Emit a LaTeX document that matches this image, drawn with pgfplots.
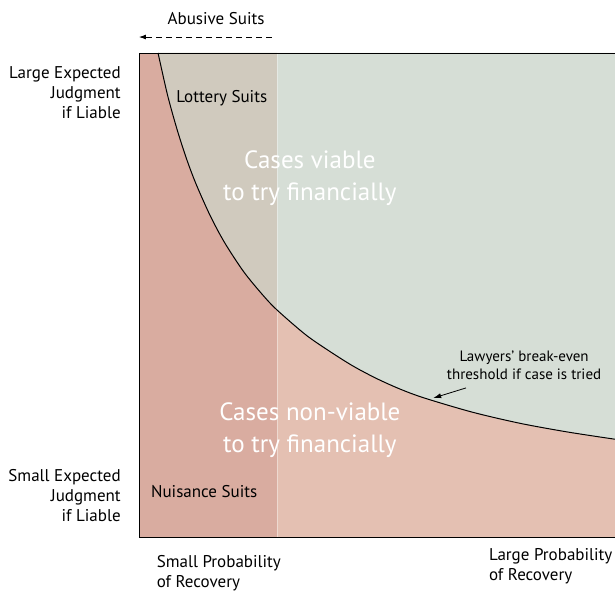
\documentclass[border=0pt]{standalone}
\usepackage{pgfplots}
\pgfplotsset{compat=1.18}
\usetikzlibrary{arrows.meta}
\usepackage{fontspec}
\setmainfont{PT Sans}
\definecolor{bgpink}{RGB}{228,192,178}
\definecolor{bggreen}{RGB}{214,222,214}
\definecolor{strippink}{RGB}{217,172,160}
\definecolor{stripgreen}{RGB}{208,202,190}
\begin{document}
\begin{tikzpicture}
\useasboundingbox (-139pt,-54pt) rectangle (476pt,537pt);
\begin{axis}[
  at={(0,0)}, anchor=south west,
  scale only axis, width=476pt, height=484pt,
  xmin=0, xmax=1, ymin=0, ymax=1,
  hide axis, clip=false,
]
% background (non-viable)
\addplot[fill=bgpink, draw=none] coordinates {(0,0) (1,0) (1,1) (0,1)} -- cycle;
% viable region above the break-even curve
\addplot[fill=bggreen, draw=none] coordinates {
(0.04,1.0) (0.06,0.913) (0.08,0.842) (0.10,0.781) (0.12,0.729) (0.15,0.663)
(0.18,0.608) (0.22,0.548) (0.26,0.500) (0.29,0.469) (0.35,0.418) (0.40,0.384)
(0.45,0.353) (0.50,0.327) (0.55,0.305) (0.60,0.287) (0.70,0.258) (0.80,0.235)
(0.90,0.217) (1.00,0.202) (1,1)} -- cycle;
% small-probability strip
\addplot[fill=strippink, draw=none] coordinates {(0,0) (0.29,0) (0.29,1) (0,1)} -- cycle;
\addplot[fill=stripgreen, draw=none] coordinates {
(0.04,1.0) (0.06,0.913) (0.08,0.842) (0.10,0.781) (0.12,0.729) (0.15,0.663)
(0.18,0.608) (0.22,0.548) (0.26,0.500) (0.29,0.469) (0.29,1)} -- cycle;
\addplot[white, opacity=0.4, line width=0.6pt] coordinates {(0.29,0) (0.29,1)};
% break-even curve
\addplot[black, line width=1pt, smooth] coordinates {
(0.04,1.0) (0.06,0.913) (0.08,0.842) (0.10,0.781) (0.12,0.729) (0.15,0.663)
(0.18,0.608) (0.22,0.548) (0.26,0.500) (0.29,0.469) (0.35,0.418) (0.40,0.384)
(0.45,0.353) (0.50,0.327) (0.55,0.305) (0.60,0.287) (0.70,0.258) (0.80,0.235)
(0.90,0.217) (1.00,0.202)};
% frame
\draw[black, line width=0.8pt] (axis cs:1,1) -- (axis cs:0,1) -- (axis cs:0,0) -- (axis cs:1,0);
% texts
\node[font=\fontsize{25}{32}\selectfont, text=white, align=center] at (axis cs:0.359,0.742) {Cases viable\\to try financially};
\node[font=\fontsize{25}{32}\selectfont, text=white, align=center] at (axis cs:0.359,0.221) {Cases non-viable\\to try financially};
\node[font=\fontsize{17}{20}\selectfont] at (axis cs:0.174,0.907) {Lottery Suits};
\node[font=\fontsize{17}{20}\selectfont] at (axis cs:0.137,0.093) {Nuisance Suits};
\node[font=\fontsize{15}{18}\selectfont, align=center] at (axis cs:0.809,0.355) {Lawyers' break-even\\threshold if case is tried};
\draw[-{Latex[length=8pt,width=5pt]}, line width=0.8pt] (axis cs:0.687,0.308) -- (axis cs:0.618,0.287);
\node[font=\fontsize{17}{20}\selectfont] at (axis cs:0.162,1.072) {Abusive Suits};
\draw[-{Latex[length=7pt,width=5pt]}, line width=0.8pt, dash pattern=on 6pt off 4pt] (axis cs:0.279,1.033) -- (axis cs:0,1.033);
\node[font=\fontsize{17}{20}\selectfont, align=right, anchor=east] at (axis cs:-0.031,0.919) {Large Expected\\Judgment\\if Liable};
\node[font=\fontsize{17}{20}\selectfont, align=right, anchor=east] at (axis cs:-0.031,0.085) {Small Expected\\Judgment\\if Liable};
\node[font=\fontsize{17}{20}\selectfont, align=left, anchor=west] at (axis cs:0.030,-0.074) {Small Probability\\of Recovery};
\node[font=\fontsize{17}{20}\selectfont, align=left, anchor=west] at (axis cs:0.728,-0.060) {Large Probability\\of Recovery};
\end{axis}
\end{tikzpicture}
\end{document}
